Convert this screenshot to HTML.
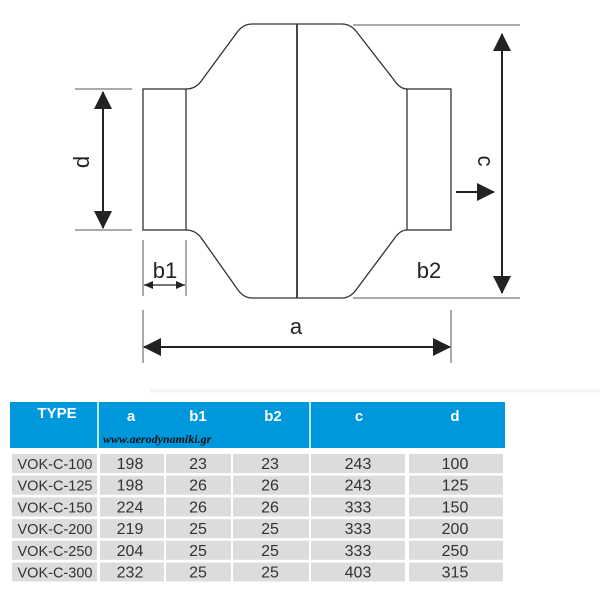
<!DOCTYPE html>
<html><head><style>
body{margin:0;background:#fff;width:600px;height:600px;overflow:hidden;font-family:"Liberation Sans",sans-serif}
</style></head><body>
<svg width="600" height="600" viewBox="0 0 600 600" xmlns="http://www.w3.org/2000/svg" style="position:absolute;left:0;top:0">
<defs>
<marker id="ah" markerWidth="18" markerHeight="18" refX="17" refY="9" orient="auto-start-reverse" markerUnits="userSpaceOnUse" viewBox="0 0 18 18"><path d="M0,0 L18,9 L0,18z" fill="#222"/></marker>
</defs>
<g fill="none" stroke="#333" stroke-width="1.3">
<rect x="143" y="89" width="43" height="141"/>
<rect x="407" y="89" width="44" height="141"/>
<path d="M186,89 Q196,89 202,80 L238,31 Q244,24 252,24 L342,24 Q350,24 356,31 L394,80 Q400,89 407,89"/>
<path d="M186,230 Q196,230 202,239 L238,290 Q244,298 252,298 L342,298 Q350,298 356,290 L394,239 Q400,230 407,230"/>
<line x1="297" y1="24" x2="297" y2="298" stroke-width="1.8"/>
</g>
<g stroke="#555" stroke-width="1">
<line x1="75" y1="89" x2="132" y2="89"/><line x1="75" y1="230" x2="132" y2="230"/>
<line x1="143" y1="240" x2="143" y2="296"/><line x1="186" y1="240" x2="186" y2="296"/>
<line x1="143" y1="310" x2="143" y2="363"/><line x1="451" y1="310" x2="451" y2="363"/>
<line x1="353" y1="25" x2="520" y2="25"/><line x1="353" y1="298" x2="520" y2="298"/>
</g>
<g stroke="#222" stroke-width="2">
<line x1="103" y1="92" x2="103" y2="228" marker-start="url(#ah)" marker-end="url(#ah)"/>
<line x1="502" y1="34" x2="502" y2="293" marker-start="url(#ah)" marker-end="url(#ah)"/>
<line x1="144" y1="347" x2="450" y2="347" marker-start="url(#ah)" marker-end="url(#ah)"/>
<line x1="456" y1="192" x2="494" y2="192" marker-end="url(#ah)"/>
</g>
<line x1="144" y1="285" x2="185" y2="285" stroke="#222" stroke-width="1.3"/>
<path d="M144,285 l9,-4 v8z M185,285 l-9,-4 v8z" fill="#222"/>
<g font-size="22" fill="#222" text-anchor="middle">
<text x="165" y="278">b1</text>
<text x="429" y="278">b2</text>
<text x="296" y="334">a</text>
<text transform="translate(89,162) rotate(-90)">d</text>
<text transform="translate(478,161) rotate(90)">c</text>
</g>
<line x1="150" y1="391" x2="600" y2="391" stroke="#f4f4f4" stroke-width="3"/>
<rect x="10" y="402" width="495" height="46" fill="#0098dc"/>
<line x1="98" y1="402" x2="98" y2="448" stroke="#fff" stroke-width="1.5"/>
<line x1="310" y1="402" x2="310" y2="448" stroke="#fff" stroke-width="1.5"/>
<g fill="#fff" font-weight="bold" font-size="15" text-anchor="middle">
<text x="57" y="418">TYPE</text><text x="131" y="421">a</text><text x="198" y="421">b1</text><text x="273" y="421">b2</text><text x="359" y="421">c</text><text x="455" y="421">d</text>
</g>
<text x="103" y="443" font-size="12" font-style="italic" font-weight="bold" fill="#111" font-family="Liberation Serif,serif">www.aerodynamiki.gr</text>
<g fill="#dcdcdc">
<g id="r"><rect x="12" y="454" width="85" height="19"/><rect x="100" y="454" width="64" height="19"/><rect x="166" y="454" width="65" height="19"/><rect x="233" y="454" width="76" height="19"/><rect x="311" y="454" width="94" height="19"/><rect x="409" y="454" width="94" height="19"/></g>
<use href="#r" y="21.7"/><use href="#r" y="43.4"/><use href="#r" y="65.1"/><use href="#r" y="86.8"/><use href="#r" y="108.5"/>
</g>
<g font-size="16" fill="#333" text-anchor="middle">
<g transform="translate(0,469)"><text x="55" font-size="14.5">VOK-C-100</text><text x="130">198</text><text x="198">23</text><text x="270">23</text><text x="358">243</text><text x="455">100</text></g>
<g transform="translate(0,490.7)"><text x="55" font-size="14.5">VOK-C-125</text><text x="130">198</text><text x="198">26</text><text x="270">26</text><text x="358">243</text><text x="455">125</text></g>
<g transform="translate(0,512.4)"><text x="55" font-size="14.5">VOK-C-150</text><text x="130">224</text><text x="198">26</text><text x="270">26</text><text x="358">333</text><text x="455">150</text></g>
<g transform="translate(0,534.1)"><text x="55" font-size="14.5">VOK-C-200</text><text x="130">219</text><text x="198">25</text><text x="270">25</text><text x="358">333</text><text x="455">200</text></g>
<g transform="translate(0,555.8)"><text x="55" font-size="14.5">VOK-C-250</text><text x="130">204</text><text x="198">25</text><text x="270">25</text><text x="358">333</text><text x="455">250</text></g>
<g transform="translate(0,577.5)"><text x="55" font-size="14.5">VOK-C-300</text><text x="130">232</text><text x="198">25</text><text x="270">25</text><text x="358">403</text><text x="455">315</text></g>
</g>
</svg>
</body></html>
